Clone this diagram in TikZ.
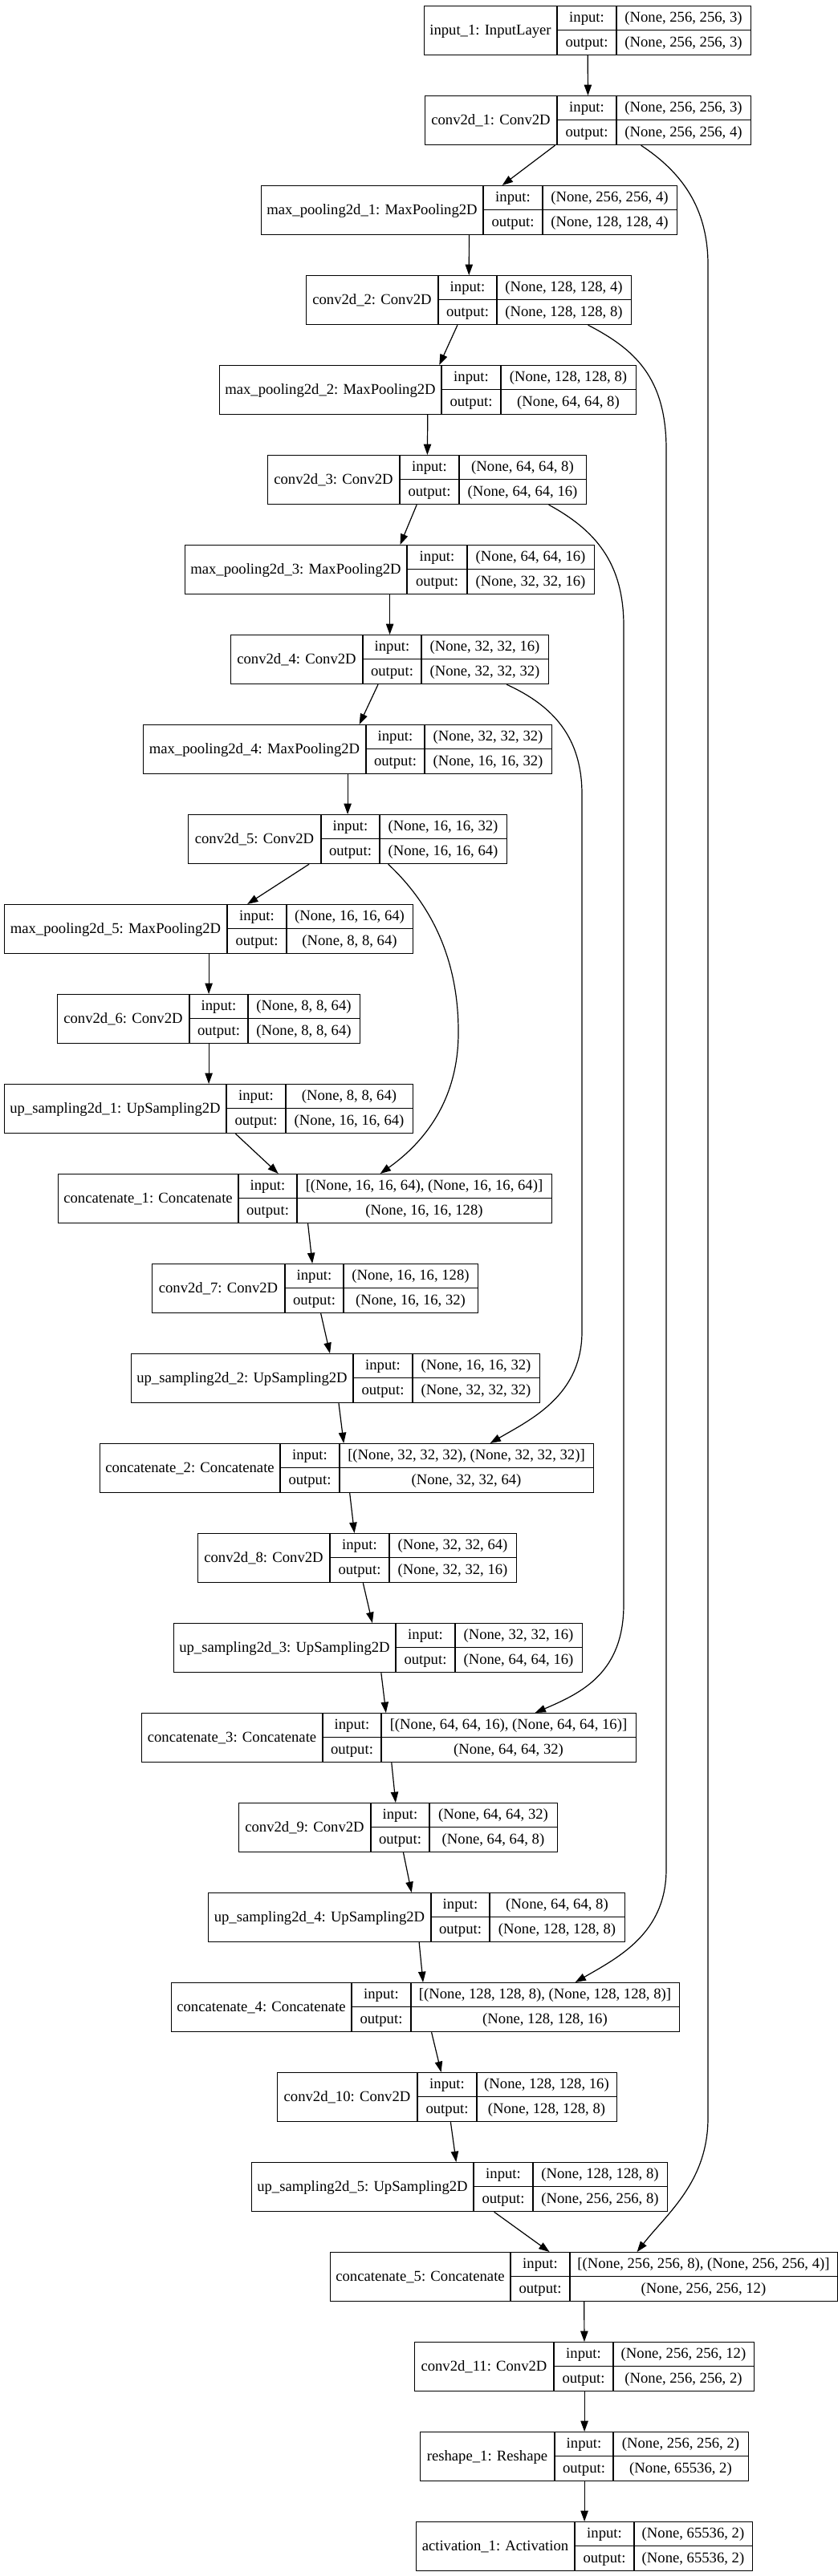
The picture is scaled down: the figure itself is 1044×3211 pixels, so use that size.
\documentclass[tikz,border=0pt]{standalone}
\usepackage{fontspec}
\setmainfont{Liberation Serif}
\usetikzlibrary{arrows.meta,calc}

% one layer record: name, row, left, div1, div2, right, label, input, output
\newcommand{\kbox}[9]{%
  \pgfmathsetmacro{\kby}{7+112*#2}%
  \node[lbox, minimum width={(#6-#3)*0.75pt}] (#1) at (#3,\kby) {};
  \draw (#4,\kby) -- (#4,\kby+61) (#5,\kby) -- (#5,\kby+61) (#4,\kby+30.5) -- (#6,\kby+30.5);
  \node[txt] (#1-n) at ({(#3+#4)/2},{\kby+30.5}) {#7};
  \node[txt] (#1-ki) at ({(#4+#5)/2},{\kby+15.25}) {input:};
  \node[txt] (#1-ko) at ({(#4+#5)/2},{\kby+45.75}) {output:};
  \node[txt] (#1-vi) at ({(#5+#6)/2},{\kby+15.25}) {#8};
  \node[txt] (#1-vo) at ({(#5+#6)/2},{\kby+45.75}) {#9};
}

\begin{document}
\begin{tikzpicture}[x=0.75pt, y=-0.75pt, line width=0.9pt,
    font=\fontsize{14}{17}\selectfont,
    lbox/.style={draw, rectangle, inner sep=0pt, minimum height=45.75pt, anchor=north west},
    txt/.style={inner sep=0pt, text height=9.8pt, text depth=1.4pt},
    arr/.style={-{Triangle[length=10pt, width=7pt]}}]
\path[use as bounding box, fill=white] (0,0) rectangle (1044,3211);

\kbox{in1}{0}{528}{694}{768}{935}{input\_1: InputLayer}{(None, 256, 256, 3)}{(None, 256, 256, 3)}
\kbox{c1}{1}{529}{694}{768}{935}{conv2d\_1: Conv2D}{(None, 256, 256, 3)}{(None, 256, 256, 4)}
\kbox{p1}{2}{325}{602}{676}{843}{max\_pooling2d\_1: MaxPooling2D}{(None, 256, 256, 4)}{(None, 128, 128, 4)}
\kbox{c2}{3}{381}{546}{619}{786}{conv2d\_2: Conv2D}{(None, 128, 128, 4)}{(None, 128, 128, 8)}
\kbox{p2}{4}{273}{550}{624}{792}{max\_pooling2d\_2: MaxPooling2D}{(None, 128, 128, 8)}{(None, 64, 64, 8)}
\kbox{c3}{5}{333}{498}{572}{730}{conv2d\_3: Conv2D}{(None, 64, 64, 8)}{(None, 64, 64, 16)}
\kbox{p3}{6}{230}{507}{582}{740}{max\_pooling2d\_3: MaxPooling2D}{(None, 64, 64, 16)}{(None, 32, 32, 16)}
\kbox{c4}{7}{287}{452}{525}{683}{conv2d\_4: Conv2D}{(None, 32, 32, 16)}{(None, 32, 32, 32)}
\kbox{p4}{8}{178}{456}{529}{687}{max\_pooling2d\_4: MaxPooling2D}{(None, 32, 32, 32)}{(None, 16, 16, 32)}
\kbox{c5}{9}{234}{400}{473}{631}{conv2d\_5: Conv2D}{(None, 16, 16, 32)}{(None, 16, 16, 64)}
\kbox{p5}{10}{5}{283}{357}{514}{max\_pooling2d\_5: MaxPooling2D}{(None, 16, 16, 64)}{(None, 8, 8, 64)}
\kbox{c6}{11}{71}{236}{309}{448}{conv2d\_6: Conv2D}{(None, 8, 8, 64)}{(None, 8, 8, 64)}
\kbox{u1}{12}{5}{282}{356}{514}{up\_sampling2d\_1: UpSampling2D}{(None, 8, 8, 64)}{(None, 16, 16, 64)}
\kbox{cat1}{13}{72}{297}{370}{687}{concatenate\_1: Concatenate}{[(None, 16, 16, 64), (None, 16, 16, 64)]}{(None, 16, 16, 128)}
\kbox{c7}{14}{189}{355}{428}{595}{conv2d\_7: Conv2D}{(None, 16, 16, 128)}{(None, 16, 16, 32)}
\kbox{u2}{15}{163}{440}{514}{672}{up\_sampling2d\_2: UpSampling2D}{(None, 16, 16, 32)}{(None, 32, 32, 32)}
\kbox{cat2}{16}{124}{349}{423}{739}{concatenate\_2: Concatenate}{[(None, 32, 32, 32), (None, 32, 32, 32)]}{(None, 32, 32, 64)}
\kbox{c8}{17}{246}{411}{485}{643}{conv2d\_8: Conv2D}{(None, 32, 32, 64)}{(None, 32, 32, 16)}
\kbox{u3}{18}{216}{493}{567}{725}{up\_sampling2d\_3: UpSampling2D}{(None, 32, 32, 16)}{(None, 64, 64, 16)}
\kbox{cat3}{19}{176}{402}{475}{792}{concatenate\_3: Concatenate}{[(None, 64, 64, 16), (None, 64, 64, 16)]}{(None, 64, 64, 32)}
\kbox{c9}{20}{297}{462}{535}{694}{conv2d\_9: Conv2D}{(None, 64, 64, 32)}{(None, 64, 64, 8)}
\kbox{u4}{21}{259}{537}{610}{778}{up\_sampling2d\_4: UpSampling2D}{(None, 64, 64, 8)}{(None, 128, 128, 8)}
\kbox{cat4}{22}{213}{438}{512}{846}{concatenate\_4: Concatenate}{[(None, 128, 128, 8), (None, 128, 128, 8)]}{(None, 128, 128, 16)}
\kbox{c10}{23}{345}{520}{594}{768}{conv2d\_10: Conv2D}{(None, 128, 128, 16)}{(None, 128, 128, 8)}
\kbox{u5}{24}{313}{590}{664}{831}{up\_sampling2d\_5: UpSampling2D}{(None, 128, 128, 8)}{(None, 256, 256, 8)}
\kbox{cat5}{25}{411}{636}{710}{1043}{concatenate\_5: Concatenate}{[(None, 256, 256, 8), (None, 256, 256, 4)]}{(None, 256, 256, 12)}
\kbox{c11}{26}{516}{690}{764}{939}{conv2d\_11: Conv2D}{(None, 256, 256, 12)}{(None, 256, 256, 2)}
\kbox{rs}{27}{523}{691}{764}{932}{reshape\_1: Reshape}{(None, 256, 256, 2)}{(None, 65536, 2)}
\kbox{act}{28}{518}{716}{790}{937}{activation\_1: Activation}{(None, 65536, 2)}{(None, 65536, 2)}

% main chain
\foreach \a/\b in {in1/c1, c1/p1, p1/c2, c2/p2, p2/c3, c3/p3, p3/c4, c4/p4,
    p4/c5, c5/p5, p5/c6, c6/u1, u1/cat1, cat1/c7, c7/u2, u2/cat2, cat2/c8,
    c8/u3, u3/cat3, cat3/c9, c9/u4, u4/cat4, cat4/c10, c10/u5, u5/cat5,
    cat5/c11, c11/rs, rs/act}
  \draw[arr] (\a) -- (\b);

% skip connections
\draw[arr] ($(c1.south)+(66,0)$) .. controls (850,215) and (882,260) .. (882,330)
  -- (882,2640) .. controls (882,2720) and (830,2760) .. ($(cat5.north)+(66,0)$);
\draw[arr] ($(c2.south)+(148.5,0)$) .. controls (790,435) and (830,470) .. (830,560)
  -- (830,2330) .. controls (830,2410) and (770,2440) .. ($(cat4.north)+(186.5,0)$);
\draw[arr] ($(c3.south)+(151.5,0)$) .. controls (740,660) and (777,700) .. (777,780)
  -- (777,2000) .. controls (777,2085) and (725,2110) .. ($(cat3.north)+(182,0)$);
\draw[arr] ($(c4.south)+(145.5,0)$) .. controls (690,880) and (725,920) .. (725,990)
  -- (725,1660) .. controls (725,1740) and (660,1770) .. ($(cat2.north)+(178.5,0)$);
\draw[arr] ($(c5.south)+(50.5,0)$) .. controls (540,1130) and (572,1200) .. (571,1290)
  .. controls (570,1380) and (520,1430) .. ($(cat1.north)+(93.5,0)$);
\end{tikzpicture}
\end{document}
